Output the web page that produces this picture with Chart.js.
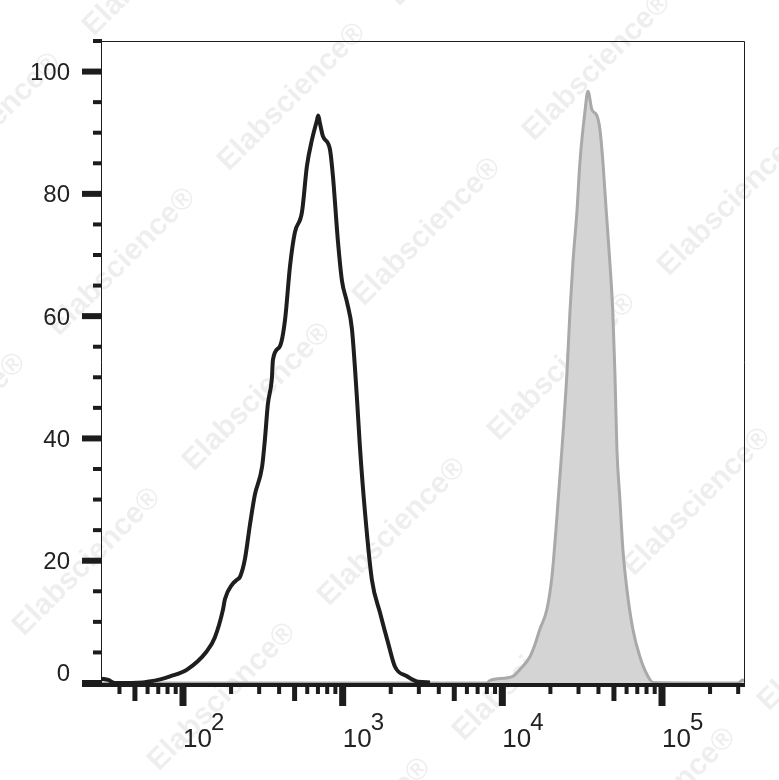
<!DOCTYPE html>
<html lang="en">
  <head>
    <meta charset="UTF-8" />
    <title>Flow histogram</title>
    <script src="https://cdn.jsdelivr.net/npm/chart.js"></script>
    <style>
      body {
        margin: 0;
        background: #fff;
      }
      canvas {
        display: block;
      }
    </style>
  </head>
  <body>
    <canvas id="myChart" width="779" height="780"></canvas>
    <script>
      // black (unstained) histogram
      const blackX = [31, 34, 37.5, 56, 60, 72, 83, 106, 141, 158, 178, 183, 203, 218, 228, 244, 263, 282, 313, 326,
        340, 360, 366, 405, 436, 468, 502, 556, 597, 643, 690, 703, 721, 753, 832, 869, 935, 991, 1064, 1143,
        1230, 1282, 1380, 1524, 1714, 1923, 2123, 2529, 2965, 3524];
      const blackY = [0.7, 0.5, 0, 0.1, 0.2, 0.6, 1.1, 2.2, 5.2, 7.4, 12.0, 13.7, 16.1, 16.9, 17.4, 20.2, 26.0, 30.8, 35.4, 39.9,
        45.6, 49.7, 52.9, 55.1, 59.5, 68.2, 73.7, 77.0, 84.5, 88.9, 92.0, 92.8, 91.5, 89.4, 87.3, 82.9, 72.1, 65.7, 62.3, 57.9,
        46.4, 38.7, 27.9, 16.9, 11.5, 6.6, 2.7, 1.1, 0.2, 0.1];

      // grey (stained) histogram
      const grayX = [31, 8000, 8356, 11640, 12880, 14890, 16000, 17180, 19000, 20450, 21980, 23610, 25400, 26500, 27680,
        29310, 30620, 32890, 34360, 36390, 39100, 40830, 42660, 44800, 47150, 49200, 50700, 52200, 54500, 56900,
        60300, 65700, 72700, 81600, 87800, 300000, 320000, 331000];
      const grayY = [0, 0, 0.4, 1.1, 2.2, 4.3, 6.3, 8.8, 12.0, 17.4, 27.2, 38.2, 50.8, 60.6, 68.8,
        77.0, 85.2, 93.4, 96.8, 93.8, 92.8, 90.6, 85.2, 77.0, 68.8, 60.6, 50.8, 38.2, 30.0, 21.8,
        15.3, 8.8, 4.3, 1.1, 0.1, 0, 0.5, 0.3];

      // axis ticks
      const yTicks = [0, 20, 40, 60, 80, 100];
      const yMinorTicks = [5, 10, 15, 25, 30, 35, 45, 50, 55, 65, 70, 75, 85, 90, 95, 105];
      const xTicks = [100, 1000, 10000, 100000];
      const xExponents = ["2", "3", "4", "5"];
      const xMidTicks = [50, 500, 5000, 50000];
      const xMinorTicks = [40, 60, 70, 80, 90, 200, 300, 400, 600, 700, 800, 900,
        2000, 3000, 4000, 6000, 7000, 8000, 9000, 20000, 30000, 40000, 60000, 70000, 80000, 90000,
        200000, 300000];

      const xMin = 30.65;
      const xMax = 331000;
      const yMax = 105;

      function toPoints(xs, ys) {
        return xs.map((x, i) => ({ x: x, y: ys[i] }));
      }

      // faint watermark behind the data
      const watermark = {
        id: "watermark",
        beforeDatasetsDraw(chart) {
          const ctx = chart.ctx;
          ctx.save();
          ctx.font = "bold 30px 'Liberation Sans', Arial, sans-serif";
          ctx.fillStyle = "rgba(0,0,0,0.065)";
          ctx.textAlign = "center";
          ctx.textBaseline = "middle";
          for (let i = -2; i <= 5; i++) {
            for (let j = -4; j <= 2; j++) {
              const cx = 292 + i * 135 + j * 170;
              const cy = 97 + i * 135 - j * 165;
              if (cx < -120 || cx > 900 || cy < -120 || cy > 900) continue;
              ctx.save();
              ctx.translate(cx, cy);
              ctx.rotate(-Math.PI / 4);
              ctx.fillText("Elabscience\u00AE", 0, 0);
              ctx.restore();
            }
          }
          ctx.restore();
        },
      };

      // frame, ticks and labels drawn from the chart's own scales
      const axesPlugin = {
        id: "axesPlugin",
        afterDraw(chart) {
          const ctx = chart.ctx;
          const xs = chart.scales.x;
          const ys = chart.scales.y;
          const a = chart.chartArea;
          ctx.save();
          ctx.fillStyle = "#1c1c1c";
          ctx.strokeStyle = "#1c1c1c";

          // thin frame
          ctx.lineWidth = 1;
          ctx.beginPath();
          ctx.moveTo(a.left + 0.5, a.bottom);
          ctx.lineTo(a.left + 0.5, a.top + 0.5);
          ctx.lineTo(a.right - 0.5, a.top + 0.5);
          ctx.lineTo(a.right - 0.5, a.bottom);
          ctx.stroke();
          // thick bottom axis
          ctx.fillRect(a.left - 19, a.bottom, a.right - a.left + 19, 4);

          // y ticks
          yTicks.forEach((v) => {
            const y = ys.getPixelForValue(v);
            ctx.fillRect(a.left - 19, y - 3, 20, 6);
          });
          yMinorTicks.forEach((v) => {
            const y = ys.getPixelForValue(v);
            ctx.fillRect(a.left - 8, y - 2, 9, 4);
          });

          // x ticks
          xTicks.forEach((v) => {
            const x = xs.getPixelForValue(v);
            ctx.fillRect(x - 3.5, a.bottom, 7, 23);
          });
          xMidTicks.forEach((v) => {
            const x = xs.getPixelForValue(v);
            ctx.fillRect(x - 2.5, a.bottom, 5, 18);
          });
          xMinorTicks.forEach((v) => {
            const x = xs.getPixelForValue(v);
            ctx.fillRect(x - 2, a.bottom, 4, 11);
          });

          // y labels
          ctx.fillStyle = "#222";
          ctx.font = "24px 'Liberation Sans', Arial, sans-serif";
          ctx.textAlign = "right";
          ctx.textBaseline = "middle";
          yTicks.forEach((v) => {
            const y = ys.getPixelForValue(v);
            ctx.fillText(String(v), a.left - 31, Math.min(y + 2, a.bottom - 9));
          });

          // x labels, 10 with raised exponent
          ctx.textAlign = "left";
          ctx.textBaseline = "alphabetic";
          xTicks.forEach((v, i) => {
            const x = xs.getPixelForValue(v);
            ctx.font = "26px 'Liberation Sans', Arial, sans-serif";
            ctx.fillText("10", x, a.bottom + 64);
            ctx.font = "24px 'Liberation Sans', Arial, sans-serif";
            ctx.fillText(xExponents[i], x + 28, a.bottom + 47);
          });
          ctx.restore();
        },
      };

      const ctx = document.getElementById("myChart").getContext("2d");
      const myChart = new Chart(ctx, {
        type: "line",
        data: {
          datasets: [
            {
              data: toPoints(blackX, blackY),
              borderColor: "#1e1e1e",
              borderWidth: 4,
              fill: false,
              pointRadius: 0,
              cubicInterpolationMode: "monotone",
            },
            {
              data: toPoints(grayX, grayY),
              borderColor: "#a9a9a9",
              backgroundColor: "#d4d4d4",
              borderWidth: 3,
              fill: "origin",
              pointRadius: 0,
              cubicInterpolationMode: "monotone",
            },
          ],
        },
        options: {
          responsive: false,
          animation: false,
          devicePixelRatio: 1,
          layout: {
            padding: { left: 101, top: 41, right: 34, bottom: 97 },
          },
          scales: {
            x: { type: "logarithmic", min: xMin, max: xMax, display: false },
            y: { type: "linear", min: 0, max: yMax, display: false },
          },
          plugins: {
            legend: { display: false },
            tooltip: { enabled: false },
          },
        },
        plugins: [watermark, axesPlugin],
      });
    </script>
  </body>
</html>
